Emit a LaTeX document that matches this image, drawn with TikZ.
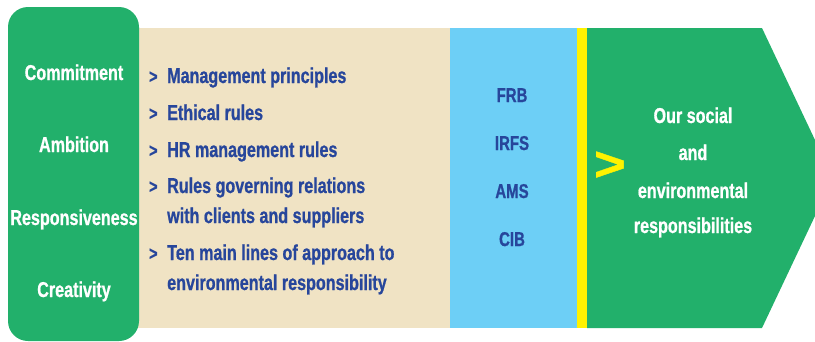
\documentclass[tikz,border=0pt]{standalone}
\usepackage{fontspec}
\setmainfont{Liberation Sans}[FakeStretch=0.75,BoldFeatures={FakeBold=0.8}]
\definecolor{cgreen}{HTML}{22B06B}
\definecolor{cbeige}{HTML}{F0E3C4}
\definecolor{cblue}{HTML}{6DCFF6}
\definecolor{cyellow}{HTML}{FFF200}
\definecolor{ctext}{HTML}{27469B}
\tikzset{
  val/.style={text=white, font=\fontsize{21.5}{22}\selectfont\bfseries, anchor=base, inner sep=0pt},
  item/.style={text=ctext, font=\fontsize{21.5}{22}\selectfont\bfseries, anchor=base west, inner sep=0pt},
  bullet/.style={text=ctext, font=\fontsize{19}{22}\selectfont\bfseries, anchor=base west, inner sep=0pt},
  code/.style={text=ctext, font=\fontsize{20}{22}\selectfont\bfseries, anchor=base, inner sep=0pt},
  resp/.style={text=white, font=\fontsize{21.5}{22}\selectfont\bfseries, anchor=base, inner sep=0pt},
}
\begin{document}
\begin{tikzpicture}[x=1pt,y=-1pt]
\useasboundingbox (0,0) rectangle (815,341);
\clip (0,0) rectangle (815,341);
% panels
\fill[cbeige] (130,28) rectangle (450,328);
\fill[cblue] (450,28) rectangle (577,328);
\fill[cyellow] (577,28) rectangle (587,328);
\fill[cgreen] (587,28) -- (762,28) -- (833,178) -- (762,328) -- (587,328) -- cycle;
\fill[cgreen, rounded corners=20pt] (8,7) rectangle (139,341);
% values
\node[val] (v1) at (74,80) {Commitment};
\node[val] (v2) at (74,152) {Ambition};
\node[val] (v3) at (74,225) {Responsiveness};
\node[val] (v4) at (74,297) {Creativity};
% items
\node[bullet] (b1) at (149,83) {>};
\node[item] (i1) at (167,83) {Management principles};
\node[bullet] (b2) at (149,120) {>};
\node[item] (i2) at (167,120) {Ethical rules};
\node[bullet] (b3) at (149,157) {>};
\node[item] (i3) at (167,157) {HR management rules};
\node[bullet] (b4) at (149,193) {>};
\node[item] (i4) at (167,193) {Rules governing relations};
\node[item] (i4b) at (167,223) {with clients and suppliers};
\node[bullet] (b5) at (149,260) {>};
\node[item] (i5) at (167,260) {Ten main lines of approach to};
\node[item] (i5b) at (167,290) {environmental responsibility};
% codes
\node[code] (c1) at (512,102) {FRB};
\node[code] (c2) at (512,150) {IRFS};
\node[code] (c3) at (512,198) {AMS};
\node[code] (c4) at (512,246) {CIB};
% yellow chevron
\node[text=cyellow, font=\fontsize{48}{48}\selectfont\bfseries, inner sep=0pt, xscale=1.5] (ch) at (610,166) {>};
% responsibilities
\node[resp] (r1) at (693,123) {Our social};
\node[resp] (r2) at (693,160) {and};
\node[resp] (r3) at (693,198) {environmental};
\node[resp] (r4) at (693,233) {responsibilities};
\end{tikzpicture}
\end{document}
